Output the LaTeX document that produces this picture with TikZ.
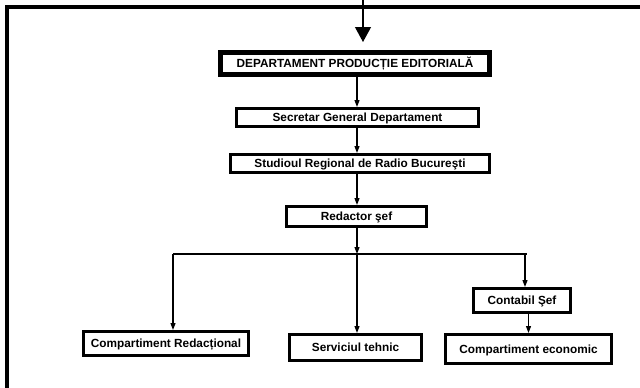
\documentclass[tikz,border=0pt]{standalone}
\usepackage{fontspec}
\setmainfont{Liberation Sans}
\usepackage{tikz}
\usetikzlibrary{arrows.meta,positioning,calc}
\tikzstyle{box}=[rectangle, draw=black, line width=3pt, inner sep=0pt, text height=9pt, text depth=1pt, font=\fontsize{11.8}{14}\selectfont\bfseries]
\tikzstyle{bigbox}=[box, line width=5pt]
\tikzstyle{link}=[line width=1.2pt, -{Triangle[width=5pt,length=7pt]}]

\begin{document}
\begin{tikzpicture}[x=1pt,y=-1pt]
				\useasboundingbox(0,0)rectangle(640,388);
				\draw[line width=3.5pt](7,388)--(7,7)--(640,7);
				\coordinate(in)at(363,0);
				\coordinate(spine)at(357,0);
				\node[bigbox, minimum width=269pt, minimum height=22pt](dep)at(355,63.5){DEPARTAMENT PRODUCȚIE EDITORIALĂ};
				\node[box, minimum width=242pt, minimum height=18pt](sec)at(357.5,117.5){Secretar General Departament};
				\node[box, minimum width=259pt, minimum height=18pt](stu)at(360,163.5){Studioul Regional de Radio Bucureşti};
				\node[box, minimum width=140pt, minimum height=20pt](red)at(356.5,216.5){Redactor şef};
				\node[box, minimum width=165pt, minimum height=24pt](cr)at(166,343.5){Compartiment Redacțional};
				\node[box, minimum width=132pt, minimum height=26pt](st)at(355.5,347.5){Serviciul tehnic};
				\node[box, minimum width=97pt, minimum height=24pt](cs)at(522,300.5){Contabil Şef};
				\node[box, minimum width=166pt, minimum height=29pt](ce)at(528.5,349){Compartiment economic};
				\coordinate(busL)at(173,254);
				\coordinate(busM)at(357,254);
				\coordinate(busR)at(525,254);
				\draw[line width=1.2pt, -{Triangle[width=16pt,length=15pt]}, shorten >=8pt](in)--(dep.north -| in);
				\draw[link](dep.south -| spine)--(sec.north -| spine);
				\draw[link](sec.south -| spine)--(stu.north -| spine);
				\draw[link](stu.south -| spine)--(red.north -| spine);
				\draw[link](red.south -| spine)--(busM);
				\draw[line width=1.2pt](busL)--($(busR)+(2,0)$);
				\draw[link](busL)--(cr.north -| busL);
				\draw[link](busM)--(st.north -| busM);
				\draw[link](busR)--(cs.north -| busR);
				\draw[link](cs.south -| ce)--(ce.north);
			\end{tikzpicture}
\end{document}
